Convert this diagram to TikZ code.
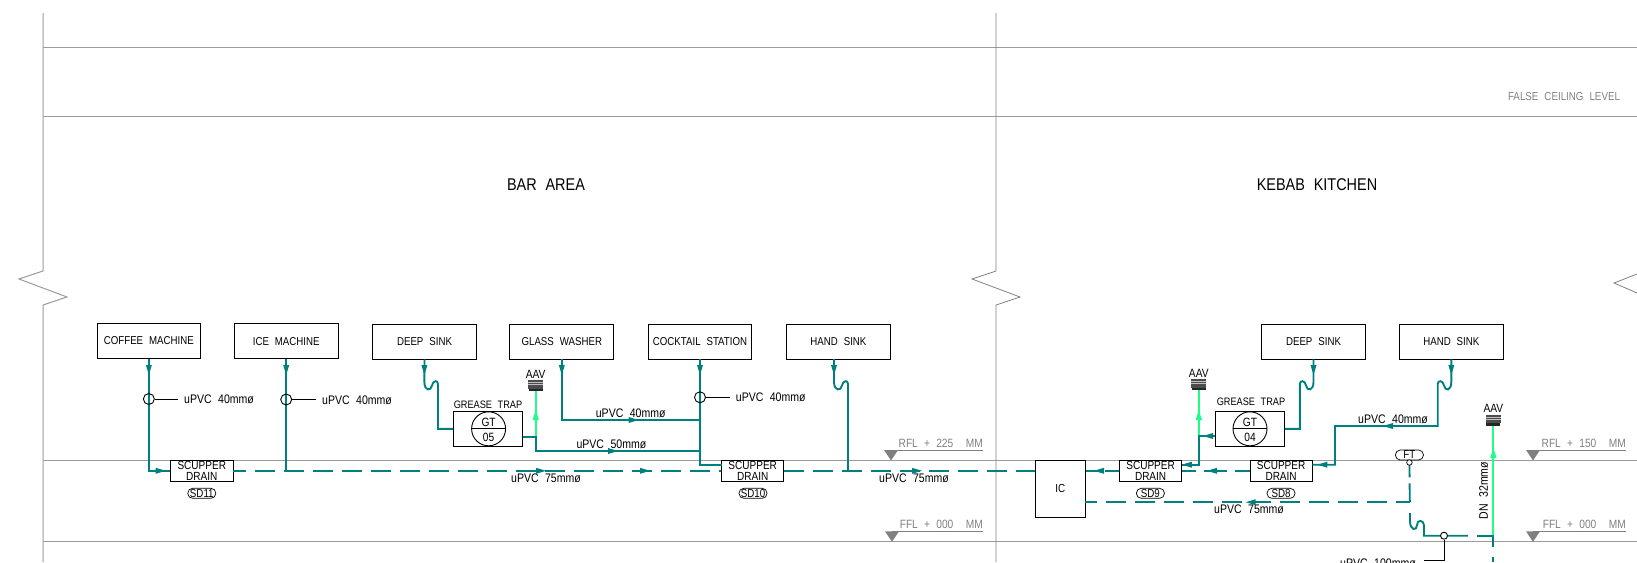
\documentclass[tikz,border=0pt]{standalone}
\usepackage{fontspec}
\setmainfont{Liberation Sans}[FakeStretch=0.85,WordSpace=2.2]
\definecolor{pipeteal}{HTML}{007F7F}
\definecolor{ventgreen}{HTML}{1CFF88}
\definecolor{wallgrey}{HTML}{9C9C9C}
\definecolor{levelgrey}{HTML}{808080}
\tikzset{
  eqbox/.style={draw=black,line width=.9pt,inner sep=0pt,minimum width=103.8pt,minimum height=35pt,align=center,font=\fontsize{11.4}{11.4}\selectfont},
  sdbox/.style={draw=black,line width=.9pt,inner sep=0pt,minimum width=62.3pt,minimum height=21pt,align=center,font=\fontsize{11.8}{11.6}\selectfont},
  tagbox/.style={draw=black,line width=.7pt,rounded corners=4.8pt,inner sep=0pt,minimum width=28pt,minimum height=10pt,font=\fontsize{11.5}{11.5}\selectfont},
  gtbox/.style={draw=black,line width=.9pt,inner sep=0pt,minimum width=69.5pt,minimum height=35pt},
  gtcircle/.style={draw=black,line width=.9pt,circle,inner sep=0pt,minimum size=34pt},
  lbl/.style={inner sep=0pt,font=\fontsize{12.4}{12.4}\selectfont},
  lblsm/.style={inner sep=0pt,font=\fontsize{12}{12}\selectfont},
  gtlabel/.style={inner sep=0pt,font=\fontsize{10.8}{10.8}\selectfont},
  lvl/.style={inner sep=0pt,text=levelgrey,font=\fontsize{12}{12}\selectfont},
  ceil/.style={inner sep=0pt,text=levelgrey,font=\fontsize{11.5}{11.5}\selectfont},
  title/.style={inner sep=0pt,font=\fontsize{17}{17}\selectfont},
  wall/.style={draw=wallgrey,line width=1pt},
  thinwall/.style={draw=levelgrey,line width=.8pt},
  pipe/.style={draw=pipeteal,line width=1.9pt},
  dpipe/.style={pipe,dash pattern=on 20pt off 9pt},
  vent/.style={draw=ventgreen,line width=2pt},
  lead/.style={draw=black,line width=.8pt},
  valve/.style={draw=black,line width=.9pt,circle,inner sep=0pt,minimum size=11pt},
  smallvalve/.style={draw=black,fill=white,line width=.9pt,circle,inner sep=0pt,minimum size=7pt},
  flow/.pic={\fill[pipeteal] (5,0)--(-5,3)--(-5,-3)--cycle;},
  gflow/.pic={\fill[ventgreen] (5,0)--(-5,3.2)--(-5,-3.2)--cycle;},
  aavicon/.pic={
    \fill[black!70] (-7.5,-5.6) rectangle (7.5,3);
    \draw[white!75!black,line width=.6pt] (-7.5,-3.4)--(7.5,-3.4) (-7.5,-1)--(7.5,-1);
    \fill[black!85] (-7,3) rectangle (7,5.6);
  },
  leveltri/.pic={\fill[levelgrey] (-7,0)--(7,0)--(0,10.5)--cycle;}
}
\begin{document}
\begin{tikzpicture}[x=1pt,y=-1pt]
\useasboundingbox (0,0) rectangle (1637,562);
% walls and levels
\draw[wall] (43,13)--(43,271)--(19,279)--(67,297)--(43,305)--(43,562);
\foreach \yy in {47.3,116,460.4,541.7}{\draw[wall] (43,\yy)--(1637,\yy);}
\draw[thinwall] (996,13)--(996,271)--(972,279)--(1020,297)--(996,305)--(996,562);
\draw[thinwall] (1637,274)--(1614,283)--(1637,293);
% titles
\node[title] (bar) at (546,185) {BAR AREA};
\node[title] (kebab) at (1317,185) {KEBAB KITCHEN};
\node[ceil] (fcl) at (1564,97) {FALSE CEILING LEVEL};
% level marks
\foreach \nm/\xa/\xb/\txt/\yy in {r1/891/983/RFL + 225\ \ MM/450,f1/892/983/FFL + 000\ \ MM/531.3,r2/1533/1626/RFL + 150\ \ MM/450,f2/1533/1626/FFL + 000\ \ MM/531.3}{
  \draw[levelgrey,line width=.7pt] (\xa,\yy)--(\xb,\yy);
  \pic at (\xa,\yy) {leveltri};
  \node[lvl,anchor=south east] (\nm) at (\xb,\yy-2.5) {\txt};
}
% equipment
\node[eqbox] (coffee) at (148.85,341) {COFFEE MACHINE};
\node[eqbox] (ice) at (286.2,341.2) {ICE MACHINE};
\node[eqbox] (deep1) at (424.5,341.5) {DEEP SINK};
\node[eqbox] (glass) at (561.8,341.5) {GLASS WASHER};
\node[eqbox] (cocktail) at (700,341.5) {COCKTAIL STATION};
\node[eqbox] (hand1) at (838.4,341.5) {HAND SINK};
\node[eqbox] (deep2) at (1313.5,341.5) {DEEP SINK};
\node[eqbox] (hand2) at (1451.3,341.5) {HAND SINK};
% drains
\node[sdbox] (sd11) at (201.8,470.8) {SCUPPER\\DRAIN};
\node[sdbox] (sd10) at (752.7,470.8) {SCUPPER\\DRAIN};
\node[sdbox] (sd9) at (1150.6,470.8) {SCUPPER\\DRAIN};
\node[sdbox] (sd8) at (1281.1,470.8) {SCUPPER\\DRAIN};
\node[tagbox] (t11) at (201.8,493.3) {SD11};
\node[tagbox] (t10) at (753,493.3) {SD10};
\node[tagbox] (t9) at (1150.4,493.3) {SD9};
\node[tagbox] (t8) at (1281,493.3) {SD8};
\node[draw=black,line width=.9pt,minimum width=50.4pt,minimum height=56.7pt,inner sep=0pt,font=\fontsize{11.6}{11.6}\selectfont] (ic) at (1060.2,488.7) {IC};
\node[tagbox] (ft) at (1409.4,455) {FT};
% grease traps
\node[gtbox] (gt5) at (488,428.8) {};
\node[gtcircle] (gc5) at (488.6,428.8) {};
\draw[black,line width=.9pt] (gc5.west)--(gc5.east);
\node[lblsm] (gt5a) at (488.6,422.5) {GT};
\node[lblsm] (gt5b) at (488.6,437.5) {05};
\node[gtlabel] (gt5l) at (488,405) {GREASE TRAP};
\node[gtbox] (gt4) at (1249.9,428.8) {};
\node[gtcircle] (gc4) at (1250,428.8) {};
\draw[black,line width=.9pt] (gc4.west)--(gc4.east);
\node[lblsm] (gt4a) at (1250,422.5) {GT};
\node[lblsm] (gt4b) at (1250,437.5) {04};
\node[gtlabel] (gt4l) at (1251,402) {GREASE TRAP};
% AAV
\node[lblsm] (aav1) at (535.7,374) {AAV};
\node[lblsm] (aav2) at (1198.8,373) {AAV};
\node[lblsm] (aav3) at (1493.4,408) {AAV};
\coordinate (ai1) at (535.7,385.5);
\coordinate (ai2) at (1198.8,384.7);
\coordinate (ai3) at (1493.4,420.2);
% vent pipes
\draw[vent] (535.7,436.7)--(ai1);
\draw[vent] (1198.8,436)--(ai2);
\draw[vent] (1493.4,535.7)--(ai3);
\pic at (ai1) {aavicon};
\pic at (ai2) {aavicon};
\pic at (ai3) {aavicon};
% solid pipes
\draw[pipe] (coffee.south) |- (sd11.west);
\draw[pipe] (ice.south)--(286.2,470.8);
\draw[pipe] (cocktail.south) |- (721.5,464.7);
\draw[pipe] (glass.south) |- (700,420);
\draw[pipe] (deep1.south)--(424.4,382) .. controls (424.4,391) and (431,391.5) .. (432,385.5) .. controls (433,380) and (438,380) .. (438,384) |- (gt5.west);
\draw[pipe] (gt5.east |- 0,436.7)-|(535.7,451)--(700,451);
\draw[pipe] (834,359)--(834,382) .. controls (834,391) and (841,391.5) .. (842,385.5) .. controls (843,380) and (848,380) .. (848,384)--(848,470.8);
\draw[pipe] (deep2.south)--(1313.5,382) .. controls (1313.5,391) and (1307,391.5) .. (1306,385.5) .. controls (1305,380) and (1299.8,380) .. (1299.8,384) |- (gt4.east);
\draw[pipe] (hand2.south)--(1451.3,382) .. controls (1451.3,391) and (1445,391.5) .. (1444,385.5) .. controls (1443,380) and (1437.7,380) .. (1437.7,384)--(1437.7,426)--(1335,426)--(1335,464.7)--(1312.3,464.7);
\draw[pipe] (gt4.west |- 0,436)--(1198.8,436)--(1198.8,464.7)--(1181.8,464.7);
\draw[pipe] (1410,513)--(1410,521) .. controls (1410,531) and (1417,531) .. (1417,525) .. controls (1417,520) and (1423,519) .. (1424,525)--(1424,535.7)--(1468,535.7);
\draw[pipe] (1477,535.7)--(1493.4,535.7)--(1493.4,547);
\draw[pipe] (1493.4,557)--(1493.4,562);
% dashed pipes
\draw[dpipe,dash phase=7.5pt] (sd11.east)--(sd10.west);
\draw[dpipe] (sd10.east)--(ic.west |- sd10.east);
\draw[dpipe,dash pattern=on 14pt off 8pt on 14pt] (sd9.west)--(ic.east |- sd9.west);
\draw[dpipe,dash pattern=on 15pt off 8pt on 23pt off 8pt on 15pt] (sd8.west)--(sd9.east);
\draw[dpipe,dash phase=6pt] (1409.8,502.2)--(1085.4,502.2);
\draw[dpipe,dash pattern=on 17pt off 6pt on 20pt] (ft.south)--(1409.8,502.2);
% valves and leaders
\node[valve] (v1) at (148.85,399) {};
\node[valve] (v2) at (286.2,399.5) {};
\node[valve] (v3) at (700,397.3) {};
\coordinate (le1) at (178,399);
\coordinate (le2) at (316,399.5);
\coordinate (le3) at (730,397.3);
\draw[lead] (v1)--(le1);
\draw[lead] (v2)--(le2);
\draw[lead] (v3)--(le3);
\node[lbl,anchor=west] (l1) at (184,399.5) {uPVC 40mmø};
\node[lbl,anchor=west] (l2) at (322,400) {uPVC 40mmø};
\node[lbl,anchor=west] (l3) at (735.7,397.5) {uPVC 40mmø};
\node[lbl] (l4) at (630.7,413.7) {uPVC 40mmø};
\node[lbl] (l5) at (611.4,444) {uPVC 50mmø};
\node[lbl] (l6) at (546,478.5) {uPVC 75mmø};
\node[lbl] (l7) at (914,478.5) {uPVC 75mmø};
\node[lbl] (l8) at (1393,419) {uPVC 40mmø};
\node[lbl] (l9) at (1249,509.7) {uPVC 75mmø};
\node[lbl] (l10) at (1378,563) {uPVC 100mmø};
\node[lbl,rotate=90] (l11) at (1483.7,490.5) {DN 32mmø};
\node[smallvalve] (sv) at (1444,535.7) {};
\draw[lead] (sv.south)|-(1424,560.7);
\node[draw=black,fill=white,line width=.7pt,circle,inner sep=0pt,minimum size=5.5pt] (fts) at (1409.4,462.5) {};
% flow arrows
\foreach \xx/\yy/\aa in {148.85/370/-90,286.2/370/-90,424.4/370/-90,561.8/370/-90,700/370/-90,834/370/-90,1313.5/370/-90,1451.3/370/-90,
  160.7/470.8/0,541/470.8/0,645/470.8/0,917/470.8/0,633.6/420/0,613/451/0,
  1099/470.8/180,1212/470.8/180,1208/436/180,1186.8/464.7/180,1388/426/180,1322.3/464.7/180,1250.7/502.2/180}{
  \pic[rotate=\aa] at (\xx,\yy) {flow};
}
\foreach \xx/\yy in {535.7/415,1198.8/415,1493.4/453}{\pic[rotate=90] at (\xx,\yy) {gflow};}
\end{tikzpicture}
\end{document}
